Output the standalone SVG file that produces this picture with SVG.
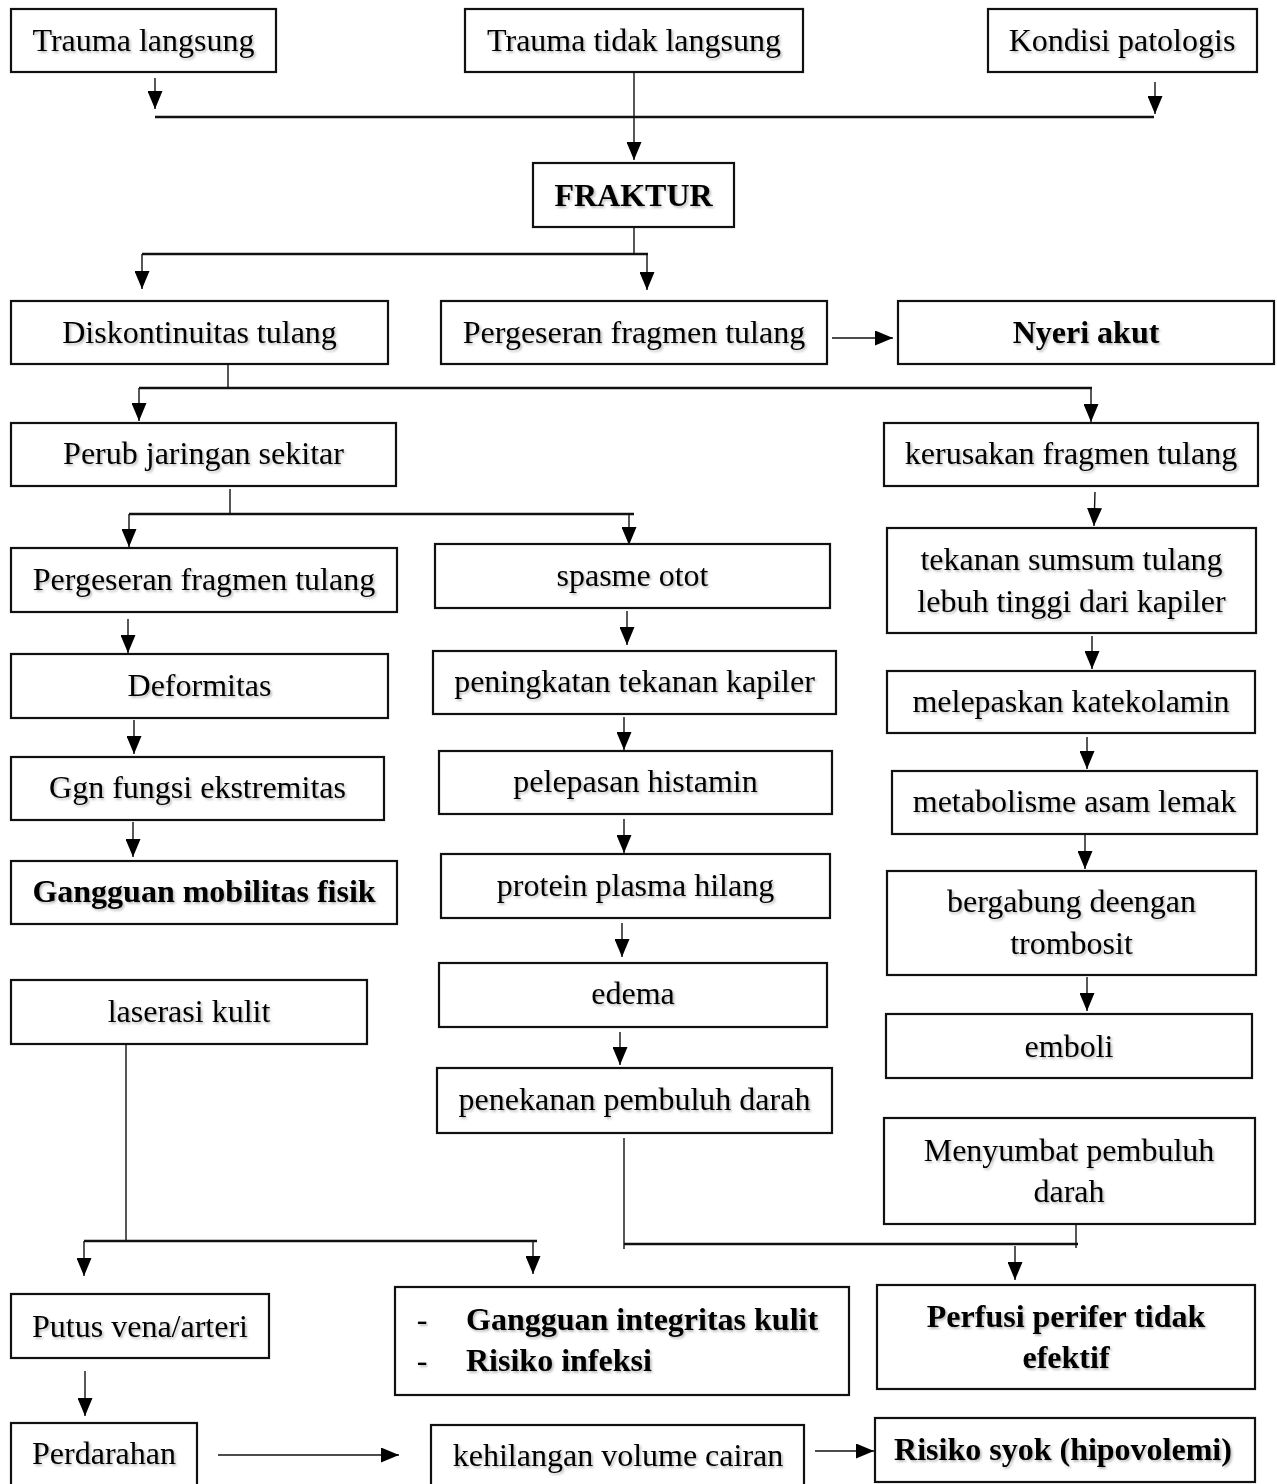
<svg xmlns="http://www.w3.org/2000/svg" width="1277" height="1484" viewBox="0 0 1277 1484">
<defs>
<style>
rect.b{fill:#fff;stroke:#111;stroke-width:2.2}
text{font-family:"Liberation Serif","Times New Roman",serif;font-size:32px;fill:#000;text-anchor:middle;filter:url(#sh)}
text.bd{font-weight:bold}
text.l{text-anchor:start}
.c line{stroke:#111;stroke-width:1.4;fill:none}
.c line.t{stroke-width:2.4}
.c line.a{marker-end:url(#ah)}
</style>
<marker id="ah" markerUnits="userSpaceOnUse" markerWidth="18" markerHeight="15" viewBox="0 0 18 15" refX="18" refY="7.5" orient="auto"><path d="M0,0 L18,7.5 L0,15 z" fill="#000"/></marker>
<filter id="sh" x="-5%" y="-20%" width="110%" height="150%"><feDropShadow dx="1.6" dy="1.8" stdDeviation="1" flood-color="#000" flood-opacity="0.28"/></filter>
</defs>
<rect width="1277" height="1484" fill="#fff"/>
<g class="c" id="connectors">
<line class="a" x1="155" y1="78" x2="155" y2="109"/>
<line class="t" x1="155" y1="117" x2="1154" y2="117"/>
<line class="a" x1="634" y1="72" x2="634" y2="160"/>
<line class="a" x1="1155" y1="82" x2="1155" y2="114"/>
<line x1="634" y1="227" x2="634" y2="254"/>
<line class="t" x1="142" y1="254" x2="648" y2="254"/>
<line class="a" x1="142" y1="254" x2="142" y2="289"/>
<line class="a" x1="647" y1="254" x2="647" y2="290"/>
<line class="a" x1="832" y1="338" x2="893" y2="338"/>
<line x1="228" y1="364" x2="228" y2="388"/>
<line class="t" x1="139" y1="388" x2="1092" y2="388"/>
<line class="a" x1="139" y1="388" x2="139" y2="421"/>
<line class="a" x1="1091" y1="388" x2="1091" y2="422"/>
<line x1="230" y1="489" x2="230" y2="514"/>
<line class="t" x1="129" y1="514" x2="634" y2="514"/>
<line class="a" x1="129" y1="514" x2="129" y2="547"/>
<line class="a" x1="629" y1="514" x2="629" y2="545"/>
<line class="a" x1="1095" y1="492" x2="1094" y2="526"/>
<line class="a" x1="128" y1="619" x2="128" y2="653"/>
<line class="a" x1="134" y1="720" x2="134" y2="754"/>
<line class="a" x1="133" y1="822" x2="133" y2="857"/>
<line class="a" x1="627" y1="611" x2="627" y2="645"/>
<line class="a" x1="624" y1="717" x2="624" y2="750"/>
<line class="a" x1="624" y1="819" x2="624" y2="853"/>
<line class="a" x1="622" y1="923" x2="622" y2="957"/>
<line class="a" x1="620" y1="1032" x2="620" y2="1065"/>
<line class="a" x1="1092" y1="636" x2="1092" y2="669"/>
<line class="a" x1="1087" y1="737" x2="1087" y2="769"/>
<line class="a" x1="1085" y1="835" x2="1085" y2="869"/>
<line class="a" x1="1087" y1="977" x2="1087" y2="1011"/>
<line x1="126" y1="1044" x2="126" y2="1241"/>
<line class="t" x1="84" y1="1241" x2="537" y2="1241"/>
<line class="a" x1="84" y1="1241" x2="84" y2="1276"/>
<line class="a" x1="533" y1="1241" x2="533" y2="1274"/>
<line x1="624" y1="1138" x2="624" y2="1249"/>
<line class="t" x1="624" y1="1244" x2="1078" y2="1244"/>
<line x1="1076" y1="1224" x2="1076" y2="1248"/>
<line class="a" x1="1015" y1="1246" x2="1015" y2="1280"/>
<line class="a" x1="85" y1="1371" x2="85" y2="1416"/>
<line class="a" x1="218" y1="1455" x2="399" y2="1455"/>
<line class="a" x1="815" y1="1451" x2="874" y2="1451"/>
</g>
<g id="n1"><rect class="b" x="11" y="9" width="265" height="63"/><text x="143.5" y="51">Trauma langsung</text></g>
<g id="n2"><rect class="b" x="465" y="9" width="338" height="63"/><text x="634" y="51">Trauma tidak langsung</text></g>
<g id="n3"><rect class="b" x="988" y="9" width="269" height="63"/><text x="1122" y="51">Kondisi patologis</text></g>
<g id="n4"><rect class="b" x="533" y="163" width="201" height="64"/><text class="bd" x="633.5" y="206">FRAKTUR</text></g>
<g id="n5"><rect class="b" x="11" y="301" width="377" height="63"/><text x="199.5" y="343">Diskontinuitas tulang</text></g>
<g id="n6"><rect class="b" x="441" y="301" width="386" height="63"/><text x="634" y="343">Pergeseran fragmen tulang</text></g>
<g id="n7"><rect class="b" x="898" y="301" width="376" height="63"/><text class="bd" x="1086" y="343">Nyeri akut</text></g>
<g id="n8"><rect class="b" x="11" y="423" width="385" height="63"/><text x="203.5" y="464">Perub jaringan sekitar</text></g>
<g id="n9"><rect class="b" x="884" y="423" width="374" height="63"/><text x="1071" y="464">kerusakan fragmen tulang</text></g>
<g id="n10"><rect class="b" x="11" y="548" width="386" height="64"/><text x="204" y="590">Pergeseran fragmen tulang</text></g>
<g id="n11"><rect class="b" x="435" y="544" width="395" height="64"/><text x="632.5" y="586">spasme otot</text></g>
<g id="n12"><rect class="b" x="887" y="528" width="369" height="105"/><text x="1071.5" y="570">tekanan sumsum tulang</text><text x="1071.5" y="612">lebuh tinggi dari kapiler</text></g>
<g id="n13"><rect class="b" x="11" y="654" width="377" height="64"/><text x="199.5" y="696">Deformitas</text></g>
<g id="n14"><rect class="b" x="433" y="651" width="403" height="63"/><text x="634.5" y="692">peningkatan tekanan kapiler</text></g>
<g id="n15"><rect class="b" x="887" y="671" width="368" height="62"/><text x="1071" y="712">melepaskan katekolamin</text></g>
<g id="n16"><rect class="b" x="11" y="757" width="373" height="63"/><text x="197.5" y="798">Ggn fungsi ekstremitas</text></g>
<g id="n17"><rect class="b" x="439" y="751" width="393" height="63"/><text x="635.5" y="792">pelepasan histamin</text></g>
<g id="n18"><rect class="b" x="892" y="771" width="365" height="63"/><text x="1074.5" y="812">metabolisme asam lemak</text></g>
<g id="n19"><rect class="b" x="11" y="861" width="386" height="63"/><text class="bd" x="204" y="902">Gangguan mobilitas fisik</text></g>
<g id="n20"><rect class="b" x="441" y="854" width="389" height="64"/><text x="635.5" y="896">protein plasma hilang</text></g>
<g id="n21"><rect class="b" x="887" y="871" width="369" height="104"/><text x="1071.5" y="912">bergabung deengan</text><text x="1071.5" y="954">trombosit</text></g>
<g id="n22"><rect class="b" x="11" y="980" width="356" height="64"/><text x="189" y="1022">laserasi kulit</text></g>
<g id="n23"><rect class="b" x="439" y="963" width="388" height="64"/><text x="633" y="1004">edema</text></g>
<g id="n24"><rect class="b" x="886" y="1014" width="366" height="64"/><text x="1069" y="1057">emboli</text></g>
<g id="n25"><rect class="b" x="437" y="1068" width="395" height="65"/><text x="634.5" y="1110">penekanan pembuluh darah</text></g>
<g id="n26"><rect class="b" x="884" y="1118" width="371" height="106"/><text x="1069" y="1161">Menyumbat pembuluh</text><text x="1069" y="1202">darah</text></g>
<g id="n27"><rect class="b" x="11" y="1294" width="258" height="64"/><text x="140" y="1337">Putus vena/arteri</text></g>
<g id="n28"><rect class="b" x="395" y="1287" width="454" height="108"/><text x="422" y="1330">-</text><text class="bd l" x="466" y="1330">Gangguan integritas kulit</text><text x="422" y="1371">-</text><text class="bd l" x="466" y="1371">Risiko infeksi</text></g>
<g id="n29"><rect class="b" x="877" y="1285" width="378" height="104"/><text class="bd" x="1066" y="1327">Perfusi perifer tidak</text><text class="bd" x="1066" y="1368">efektif</text></g>
<g id="n30"><rect class="b" x="11" y="1423" width="186" height="70"/><text x="104" y="1464">Perdarahan</text></g>
<g id="n31"><rect class="b" x="431" y="1425" width="373" height="70"/><text x="618" y="1466">kehilangan volume cairan</text></g>
<g id="n32"><rect class="b" x="875" y="1418" width="380" height="64"/><text class="bd" x="1063" y="1460">Risiko syok (hipovolemi)</text></g>
</svg>
